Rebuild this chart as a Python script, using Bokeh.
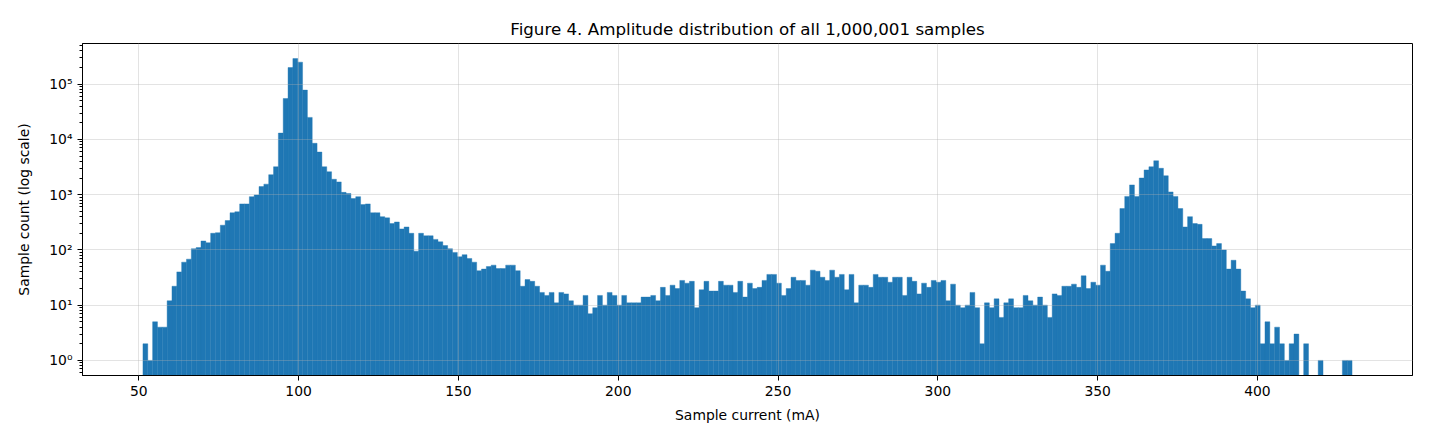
import numpy as np
from bokeh.plotting import figure
from bokeh.models import Range1d, FixedTicker, ColumnDataSource
from bokeh.embed import file_html
from bokeh.resources import INLINE

# ---- data ----
current_min = 51.3     # mA, left edge of first bin
current_max = 429.6    # mA, right edge of last bin
counts = [
    2, 1, 5, 4, 4, 12, 22, 40, 60, 68,
    105, 110, 145, 135, 200, 205, 280, 340, 470, 490,
    680, 680, 920, 990, 1400, 1550, 2300, 3200, 13000, 55000,
    200000, 290000, 250000, 78000, 25000, 8500, 5900, 3200, 2600, 1900,
    1700, 1100, 1050, 850, 920, 660, 680, 470, 470, 400,
    380, 300, 320, 240, 260, 200, 95, 200, 180, 180,
    155, 140, 120, 105, 90, 75, 82, 70, 60, 42,
    45, 50, 53, 46, 46, 53, 53, 42, 22, 29,
    27, 22, 17, 15, 17, 11, 17, 16, 12, 10,
    10, 15, 7, 9, 15, 10, 17, 15, 10, 15,
    11, 11, 11, 14, 14, 15, 12, 21, 15, 23,
    20, 28, 25, 27, 9, 19, 27, 18, 18, 27,
    23, 23, 17, 27, 14, 25, 20, 21, 28, 36,
    36, 25, 15, 20, 32, 28, 28, 23, 43, 41,
    32, 28, 43, 32, 36, 19, 36, 11, 23, 23,
    21, 36, 32, 32, 26, 32, 32, 15, 32, 27,
    16, 25, 21, 28, 26, 28, 12, 24, 10, 9,
    10, 17, 9, 2, 11, 9, 13, 6, 11, 13,
    9, 9, 15, 12, 10, 14, 10, 6, 16, 15,
    22, 22, 24, 21, 34, 20, 26, 23, 53, 41,
    130, 200, 560, 930, 1500, 930, 2000, 2800, 3200, 4100,
    3000, 2200, 1120, 930, 560, 260, 400, 300, 290, 160,
    160, 118, 130, 100, 45, 65, 45, 18, 13, 9,
    10, 2, 5, 2, 4, 2, 1, 2, 3, 0,
    2, 0, 0, 1, 0, 0, 0, 0, 1, 1,
]
x_ticks = [50, 100, 150, 200, 250, 300, 350, 400]
y_ticks = [1, 10, 100, 1000, 10000, 100000]
y_tick_labels = ["10⁰", "10¹", "10²", "10³", "10⁴", "10⁵"]
title_text = "Figure 4. Amplitude distribution of all 1,000,001 samples"
x_label = "Sample current (mA)"
y_label = "Sample count (log scale)"

# ---- derived ----
counts_arr = np.array(counts, dtype=float)
edges = np.linspace(current_min, current_max, len(counts) + 1)
mask = counts_arr > 0
span = current_max - current_min
x_lo, x_hi = current_min - 0.05 * span, current_max + 0.05 * span
lmin, lmax = np.log10(counts_arr[mask].min()), np.log10(counts_arr.max())
lspan = lmax - lmin
y_lo, y_hi = 10 ** (lmin - 0.05 * lspan), 10 ** (lmax + 0.05 * lspan)

src = ColumnDataSource(dict(
    left=edges[:-1][mask], right=edges[1:][mask],
    top=counts_arr[mask], bottom=np.full(mask.sum(), y_lo * 0.5),
))

FONT = "DejaVu Sans"
BLUE = "#1f77b4"
p = figure(
    frame_width=1330, frame_height=332,
    min_border_left=82, min_border_right=10, min_border_top=43, min_border_bottom=59,
    y_axis_type="log",
    x_range=Range1d(x_lo, x_hi), y_range=Range1d(y_lo, y_hi),
    output_backend="svg", toolbar_location=None,
    title=title_text,
)
p.quad(left="left", right="right", top="top", bottom="bottom", source=src,
       fill_color=BLUE, line_color=BLUE, line_width=0.4)

p.title.align = "center"
p.title.text_font = FONT
p.title.text_font_size = "16.7px"
p.title.text_font_style = "normal"
p.title.text_color = "black"
p.title.text_line_height = 0.7
p.title.standoff = 10

minor = [m * 10.0 ** k for k in range(-1, 6) for m in range(2, 10)]
minor = [v for v in minor if y_lo <= v <= y_hi and v not in y_ticks]
p.yaxis.ticker = FixedTicker(ticks=y_ticks, minor_ticks=minor)
p.yaxis.major_label_overrides = {t: l for t, l in zip(y_ticks, y_tick_labels)}
p.xaxis.ticker = FixedTicker(ticks=x_ticks)

for ax in (p.xaxis, p.yaxis):
    ax.major_label_text_font = FONT
    ax.major_label_text_font_size = "13.9px"
    ax.major_label_text_color = "black"
    ax.axis_label_text_font = FONT
    ax.axis_label_text_font_size = "13.9px"
    ax.axis_label_text_font_style = "normal"
    ax.axis_label_text_color = "black"
    ax.axis_line_color = "black"
    ax.major_tick_line_color = "black"
    ax.minor_tick_line_color = "black"
    ax.major_tick_in = 0
    ax.major_tick_out = 5
    ax.minor_tick_in = 0
    ax.minor_tick_out = 3
    ax.major_label_standoff = 5

p.xaxis.axis_label = x_label
p.yaxis.axis_label = y_label
p.xaxis.axis_label_standoff = 8
p.yaxis.axis_label_standoff = 14
p.xaxis.minor_tick_line_color = None

p.outline_line_color = "black"
p.outline_line_width = 1
p.outline_line_alpha = 1

for g in (p.xgrid, p.ygrid):
    g.grid_line_color = "#b0b0b0"
    g.grid_line_alpha = 0.35
    g.grid_line_width = 1
    g.level = "overlay"

p.background_fill_color = "white"
p.border_fill_color = "white"

open("out.html", "w").write(file_html(p, INLINE))
